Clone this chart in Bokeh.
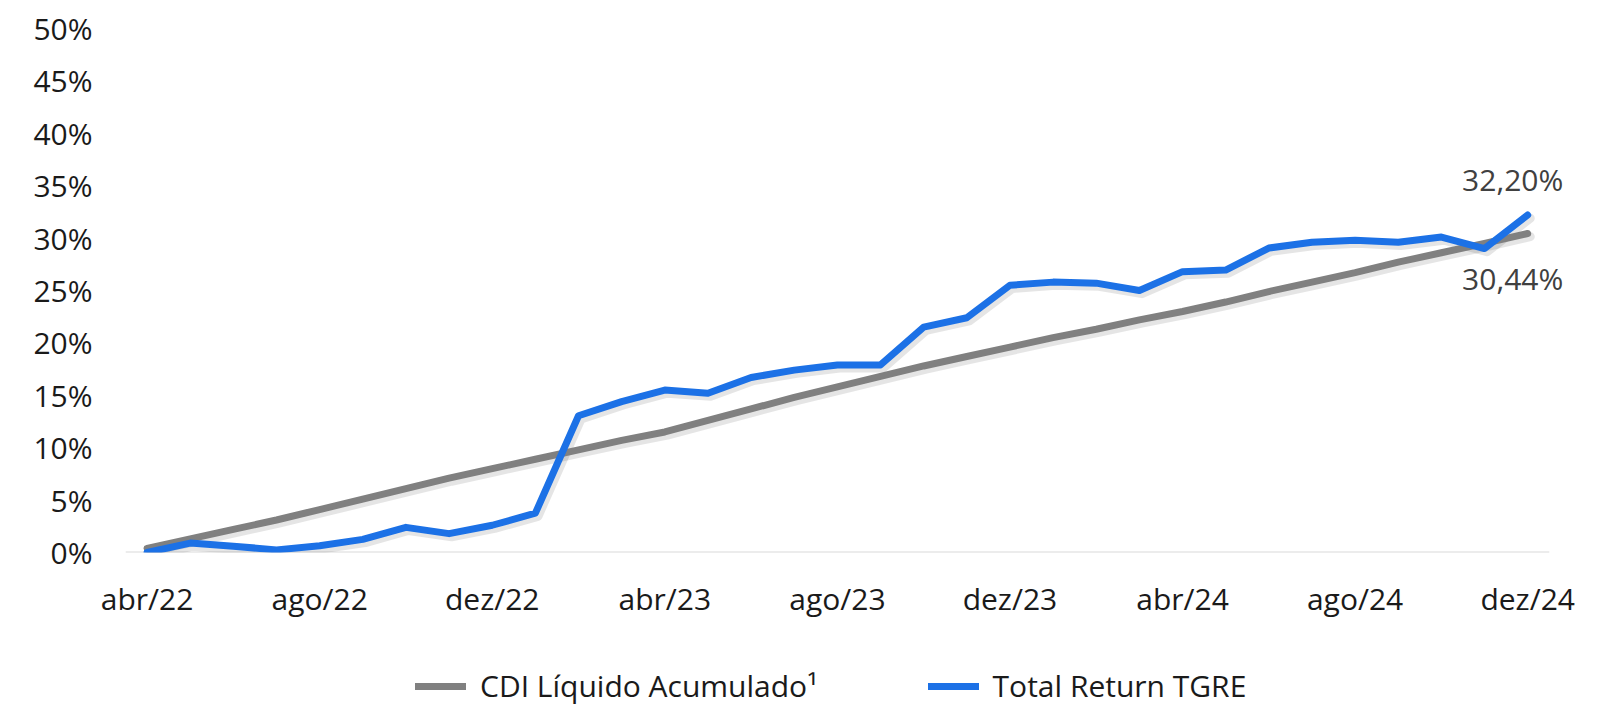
import numpy as np
from bokeh.plotting import figure
from bokeh.layouts import column
from bokeh.models import Range1d, FixedTicker, Legend, LegendItem
from bokeh.core.properties import value
from bokeh.embed import file_html
from bokeh.resources import INLINE

months = ["abr/22", "mai/22", "jun/22", "jul/22", "ago/22", "set/22", "out/22", "nov/22", "dez/22",
          "jan/23", "fev/23", "mar/23", "abr/23", "mai/23", "jun/23", "jul/23", "ago/23", "set/23",
          "out/23", "nov/23", "dez/23", "jan/24", "fev/24", "mar/24", "abr/24", "mai/24", "jun/24",
          "jul/24", "ago/24", "set/24", "out/24", "nov/24", "dez/24"]

cdi_liquido = [0.4, 1.3, 2.2, 3.1, 4.1, 5.1, 6.1, 7.1, 8.0, 8.9, 9.8, 10.7, 11.5, 12.6, 13.7, 14.8,
               15.8, 16.8, 17.8, 18.7, 19.6, 20.5, 21.3, 22.2, 23.0, 23.9, 24.9, 25.8, 26.7, 27.7,
               28.6, 29.5, 30.44]

total_return = [0.0, 0.9, 0.6, 0.25, 0.65, 1.25, 2.4, 1.8, 2.6, 3.75, 13.05, 14.4, 15.5, 15.2, 16.7,
                17.4, 17.9, 17.9, 21.5, 22.4, 25.5, 25.8, 25.7, 25.0, 26.8, 26.95, 29.05, 29.6, 29.8,
                29.6, 30.1, 29.0, 32.2]

y_ticks = [0, 5, 10, 15, 20, 25, 30, 35, 40, 45, 50]
y_tick_labels = ["0%", "5%", "10%", "15%", "20%", "25%", "30%", "35%", "40%", "45%", "50%"]
x_tick_step = 4

end_labels = ["30,44%", "32,20%"]
series_names = ["CDI Líquido Acumulado¹", "Total Return TGRE"]

FONT = "Open Sans"
GRAY = "#808080"
BLUE = "#1c71e6"
TEXT = "#1a1a1a"

x = np.arange(len(months))
n = len(months)

p = figure(width=1607, height=655, output_backend="svg", toolbar_location=None,
           x_range=Range1d(-0.5, 33.85), y_range=Range1d(0, 50),
           min_border_left=125, min_border_right=0, min_border_top=28, min_border_bottom=103)
p.outline_line_color = None
p.xgrid.visible = False
p.ygrid.visible = False

# baseline (category axis line)
p.segment(x0=[-0.5], y0=[0], x1=[n - 0.5], y1=[0], line_color="#d9d9d9", line_width=2)

# soft shadows
sx = x + 0.06
p.line(sx, np.array(cdi_liquido) - 0.3, line_color="#000000", line_alpha=0.10, line_width=9,
       line_join="round", line_cap="round")
p.line(sx, np.array(total_return) - 0.3, line_color="#000000", line_alpha=0.10, line_width=9,
       line_join="round", line_cap="round")

r_cdi = p.line(x, cdi_liquido, line_color=GRAY, line_width=7, line_join="round", line_cap="round")
r_tr = p.line(x, total_return, line_color=BLUE, line_width=7, line_join="round", line_cap="round")

# end labels
p.text(x=[x[-1]], y=[cdi_liquido[-1]], text=[end_labels[0]], text_font=value(FONT),
       text_font_size="30px", text_color="#404040", text_align="center", text_baseline="middle",
       x_offset=-15, y_offset=45)
p.text(x=[x[-1]], y=[total_return[-1]], text=[end_labels[1]], text_font=value(FONT),
       text_font_size="30px", text_color="#404040", text_align="center", text_baseline="middle",
       x_offset=-15, y_offset=-36)

# axes
xt = list(range(0, n, x_tick_step))
p.xaxis.ticker = FixedTicker(ticks=xt)
p.xaxis.major_label_overrides = {i: months[i] for i in xt}
p.xaxis.axis_line_color = None
p.xaxis.major_tick_line_color = None
p.xaxis.minor_tick_line_color = None
p.xaxis.major_tick_out = 0
p.xaxis.major_tick_in = 0
p.xaxis.major_label_standoff = 25
p.xaxis.major_label_text_font = FONT
p.xaxis.major_label_text_font_size = "30px"
p.xaxis.major_label_text_color = TEXT

p.yaxis.ticker = FixedTicker(ticks=y_ticks)
p.yaxis.major_label_overrides = {t: l for t, l in zip(y_ticks, y_tick_labels)}
p.yaxis.axis_line_color = None
p.yaxis.major_tick_line_color = None
p.yaxis.minor_tick_line_color = None
p.yaxis.major_tick_out = 0
p.yaxis.major_tick_in = 0
p.yaxis.major_label_standoff = 33
p.yaxis.major_label_text_font = FONT
p.yaxis.major_label_text_font_size = "30px"
p.yaxis.major_label_text_color = TEXT

# legend strip (frame aligned with the chart frame by the column layout)
pl = figure(width=1607, height=51, output_backend="svg", toolbar_location=None,
            x_range=Range1d(0, 1), y_range=Range1d(0, 1), x_axis_location=None,
            y_axis_location=None, min_border=0)
pl.outline_line_color = None
pl.xgrid.visible = False
pl.ygrid.visible = False
l_cdi = pl.line([np.nan], [np.nan], line_color=GRAY, line_width=7, line_cap="round")
l_tr = pl.line([np.nan], [np.nan], line_color=BLUE, line_width=7, line_cap="round")
legend = Legend(items=[LegendItem(label=series_names[0], renderers=[l_cdi]),
                       LegendItem(label=series_names[1], renderers=[l_tr])],
                location=(290, 0), orientation="horizontal")
legend.label_text_font = FONT
legend.label_text_font_size = "30px"
legend.label_text_color = TEXT
legend.glyph_width = 51
legend.glyph_height = 20
legend.label_standoff = 14
legend.spacing = 110
legend.padding = 0
legend.margin = 0
legend.border_line_color = None
legend.background_fill_alpha = 0
pl.add_layout(legend)

open("out.html", "w").write(file_html(column(p, pl), INLINE))
